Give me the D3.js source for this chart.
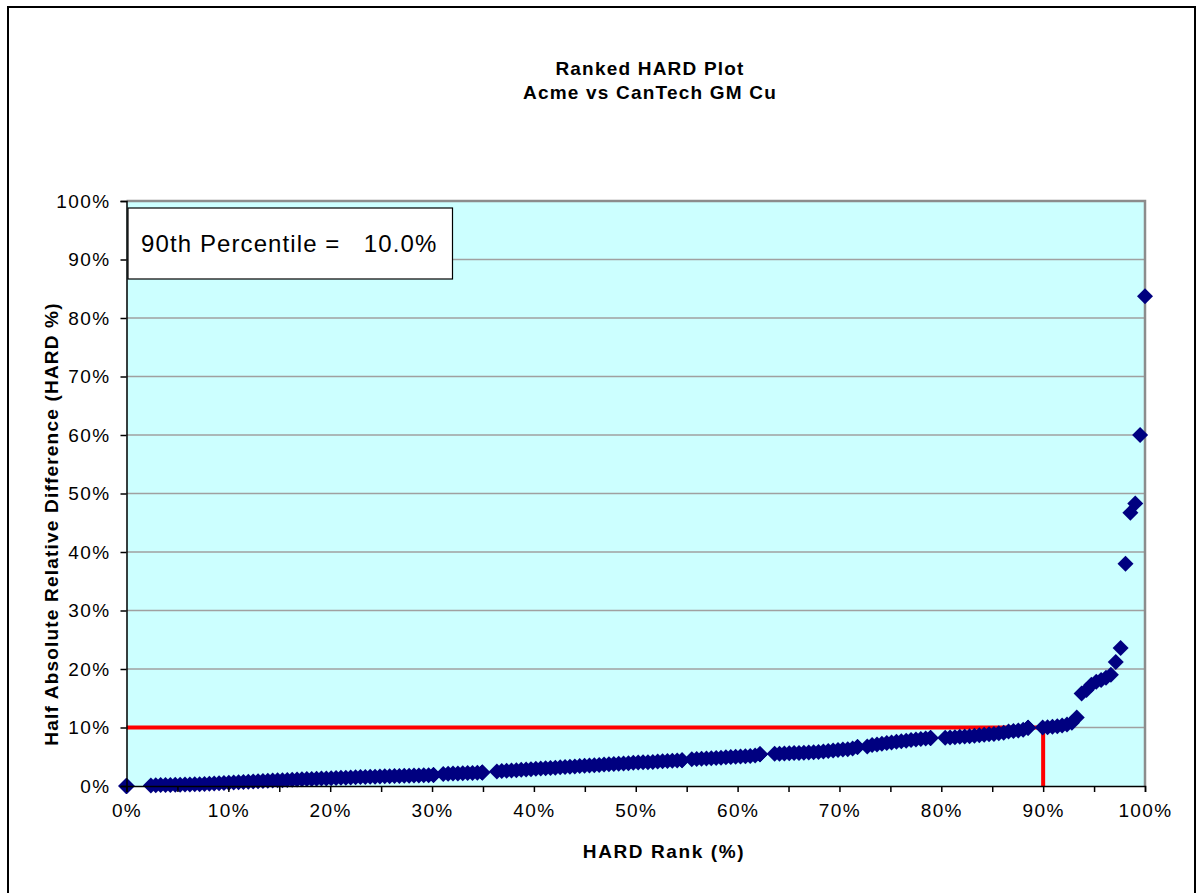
<!DOCTYPE html>
<html>
<head>
<meta charset="utf-8">
<script src="https://cdn.jsdelivr.net/npm/d3@7"></script>
<style>
  body { margin: 0; background: #fff; }
  svg { display: block; }
  text { font-family: "Liberation Sans", Arial, sans-serif; fill: #000; }
</style>
</head>
<body>
<svg id="chart" width="1200" height="893"></svg>
<script>
// ---- chart text ----
const titleLines = ["Ranked HARD Plot", "Acme vs CanTech GM Cu"];
const xAxisTitle = "HARD Rank (%)";
const yAxisTitle = "Half Absolute Relative Difference (HARD %)";

// ---- percentile marker ----
const percentileRank = 90;    // % rank
const percentileValue = 10.0; // HARD %

// ---- sorted HARD values (%) for every sample pair ----
const hardValues = [
  0, 0, 0, 0, 0,
  0.10, 0.12, 0.15, 0.17, 0.19, 0.21, 0.23, 0.25, 0.27, 0.28,
  0.30, 0.34, 0.38, 0.42, 0.46, 0.50, 0.55,
  0.60, 0.64, 0.68, 0.72, 0.77, 0.81, 0.86,
  0.90, 0.94, 0.97, 1.00, 1.04, 1.08, 1.12,
  1.15, 1.18, 1.21, 1.24, 1.27, 1.30,
  1.33, 1.36, 1.39, 1.42, 1.45, 1.48, 1.52,
  1.55, 1.58, 1.60, 1.63, 1.65, 1.68, 1.70,
  1.72, 1.74, 1.76, 1.78, 1.80, 1.82, 1.84,
  1.88, 1.88,
  2.05, 2.08, 2.12, 2.15, 2.18, 2.21, 2.24, 2.27,
  2.32, 2.32, 2.32,
  2.50, 2.55, 2.60, 2.66, 2.71, 2.77, 2.82, 2.88, 2.94,
  2.99, 3.04, 3.09, 3.14, 3.19, 3.25, 3.30, 3.35, 3.40,
  3.45, 3.50, 3.55, 3.60, 3.66, 3.71, 3.76, 3.81, 3.86, 3.91, 3.96,
  4.00, 4.04, 4.08, 4.12, 4.17, 4.22, 4.27, 4.32, 4.36,
  4.42, 4.42,
  4.58, 4.62, 4.67, 4.71, 4.76, 4.80, 4.85, 4.90, 4.95,
  5.00, 5.04, 5.08, 5.13, 5.20,
  5.42, 5.42, 5.42,
  5.50, 5.53, 5.56, 5.59, 5.62, 5.65, 5.68, 5.72, 5.76,
  5.82, 5.90, 5.98, 6.06, 6.14, 6.22, 6.30, 6.40,
  6.65, 6.65,
  6.75, 7.00, 7.10, 7.22, 7.34, 7.45,
  7.55, 7.65, 7.75, 7.85, 7.95, 8.05, 8.12,
  8.22, 8.22, 8.22,
  8.25, 8.30, 8.35, 8.40, 8.45, 8.52, 8.60, 8.68, 8.76, 8.84,
  8.90, 9.00, 9.10, 9.30, 9.40, 9.50, 9.60,
  9.95, 9.95, 9.95,
  10.00, 10.06, 10.12, 10.20, 10.35, 10.50, 10.80,
  11.70,
  15.8, 16.4, 17.3, 17.8, 18.1, 18.5, 19.0, 21.2, 23.6, 38.0, 46.7, 48.3, 60.0, 83.7
];

// ---- axis ticks ----
const yTickValues = [0, 10, 20, 30, 40, 50, 60, 70, 80, 90, 100];
const xTickValues = [0, 5, 10, 15, 20, 25, 30, 35, 40, 45, 50, 55, 60, 65, 70, 75, 80, 85, 90, 95, 100];
const xLabelValues = [0, 10, 20, 30, 40, 50, 60, 70, 80, 90, 100];

// percent rank of each value (ties share the lowest rank)
const n = hardValues.length;
const points = hardValues.map(v => ({
  rank: d3.bisectLeft(hardValues, v) / (n - 1) * 100,
  hard: v
}));

const svg = d3.select("#chart");
const plot = { left: 126.5, right: 1145, top: 201, bottom: 786 };

const x = d3.scaleLinear().domain([0, 100]).range([plot.left, plot.right]);
const y = d3.scaleLinear().domain([0, 100]).range([plot.bottom, plot.top]);

// outer chart frame
svg.append("rect")
  .attr("x", 8).attr("y", 7).attr("width", 1187).attr("height", 900)
  .attr("fill", "#fff").attr("stroke", "#000").attr("stroke-width", 2);

// plot background
svg.append("rect")
  .attr("x", plot.left).attr("y", plot.top)
  .attr("width", plot.right - plot.left).attr("height", plot.bottom - plot.top)
  .attr("fill", "#ccffff");

// horizontal gridlines
svg.append("g").selectAll("line")
  .data(yTickValues.filter(d => d > 0 && d < 100))
  .join("line")
  .attr("x1", plot.left).attr("x2", plot.right)
  .attr("y1", d => y(d)).attr("y2", d => y(d))
  .attr("stroke", "#a0a0a0").attr("stroke-width", 1.5);

// plot border (top / right)
svg.append("path")
  .attr("d", `M${plot.left},${plot.top}H${plot.right}V${plot.bottom}`)
  .attr("fill", "none").attr("stroke", "#8c8c8c").attr("stroke-width", 2.5);

// percentile guide lines
svg.append("path")
  .attr("d", `M${x(0)},${y(percentileValue)}H${x(percentileRank)}V${y(0)}`)
  .attr("fill", "none").attr("stroke", "#ff0000").attr("stroke-width", 4);

// diamond markers
const r = 8;
const diamond = `M0,${-r}L${r},0L0,${r}L${-r},0Z`;
svg.append("g").selectAll("path")
  .data(points)
  .join("path")
  .attr("d", diamond)
  .attr("transform", d => `translate(${x(d.rank)},${y(d.hard)})`)
  .attr("fill", "#000080");

const tickFont = sel => sel
  .style("font-size", "19px").style("letter-spacing", "1.4px").attr("fill", "#111");

// y axis
const yAxis = svg.append("g")
  .attr("transform", `translate(${plot.left},0)`)
  .call(d3.axisLeft(y).tickValues(yTickValues).tickSize(6).tickPadding(10)
    .tickFormat(d => d + "%"));
yAxis.select(".domain").attr("stroke", "#000").attr("stroke-width", 1.5);
yAxis.selectAll(".tick line").attr("stroke", "#000").attr("stroke-width", 1.5);
yAxis.selectAll(".tick text").call(tickFont);

// x axis
const xAxis = svg.append("g")
  .attr("transform", `translate(0,${plot.bottom})`)
  .call(d3.axisBottom(x).tickValues(xTickValues).tickSize(6).tickPadding(12)
    .tickFormat(d => xLabelValues.includes(d) ? d + "%" : ""));
xAxis.select(".domain").attr("stroke", "#000").attr("stroke-width", 1.5);
xAxis.selectAll(".tick line").attr("stroke", "#000").attr("stroke-width", 1.5);
xAxis.selectAll(".tick text").call(tickFont);

// percentile box
const box = svg.append("g");
box.append("rect")
  .attr("x", 128).attr("y", 208).attr("width", 324.5).attr("height", 71)
  .attr("fill", "#fff").attr("stroke", "#000").attr("stroke-width", 1.2);
box.append("text")
  .attr("x", 141).attr("y", 252)
  .style("white-space", "pre")
  .style("font-size", "24px").style("letter-spacing", "1.1px")
  .text(`${percentileRank}th Percentile =   ${percentileValue.toFixed(1)}%`);

// title
svg.append("g").selectAll("text")
  .data(titleLines)
  .join("text")
  .attr("x", 650).attr("y", (d, i) => 75 + i * 24)
  .attr("text-anchor", "middle")
  .style("font-size", "19px").style("font-weight", "bold").style("letter-spacing", "1.2px")
  .text(d => d);

// axis titles
svg.append("text")
  .attr("x", 664).attr("y", 858)
  .attr("text-anchor", "middle")
  .style("font-size", "19px").style("font-weight", "bold").style("letter-spacing", "1.6px")
  .text(xAxisTitle);

svg.append("text")
  .attr("transform", "translate(58,524) rotate(-90)")
  .attr("text-anchor", "middle")
  .style("font-size", "19px").style("font-weight", "bold").style("letter-spacing", "1.2px")
  .text(yAxisTitle);
</script>
</body>
</html>
